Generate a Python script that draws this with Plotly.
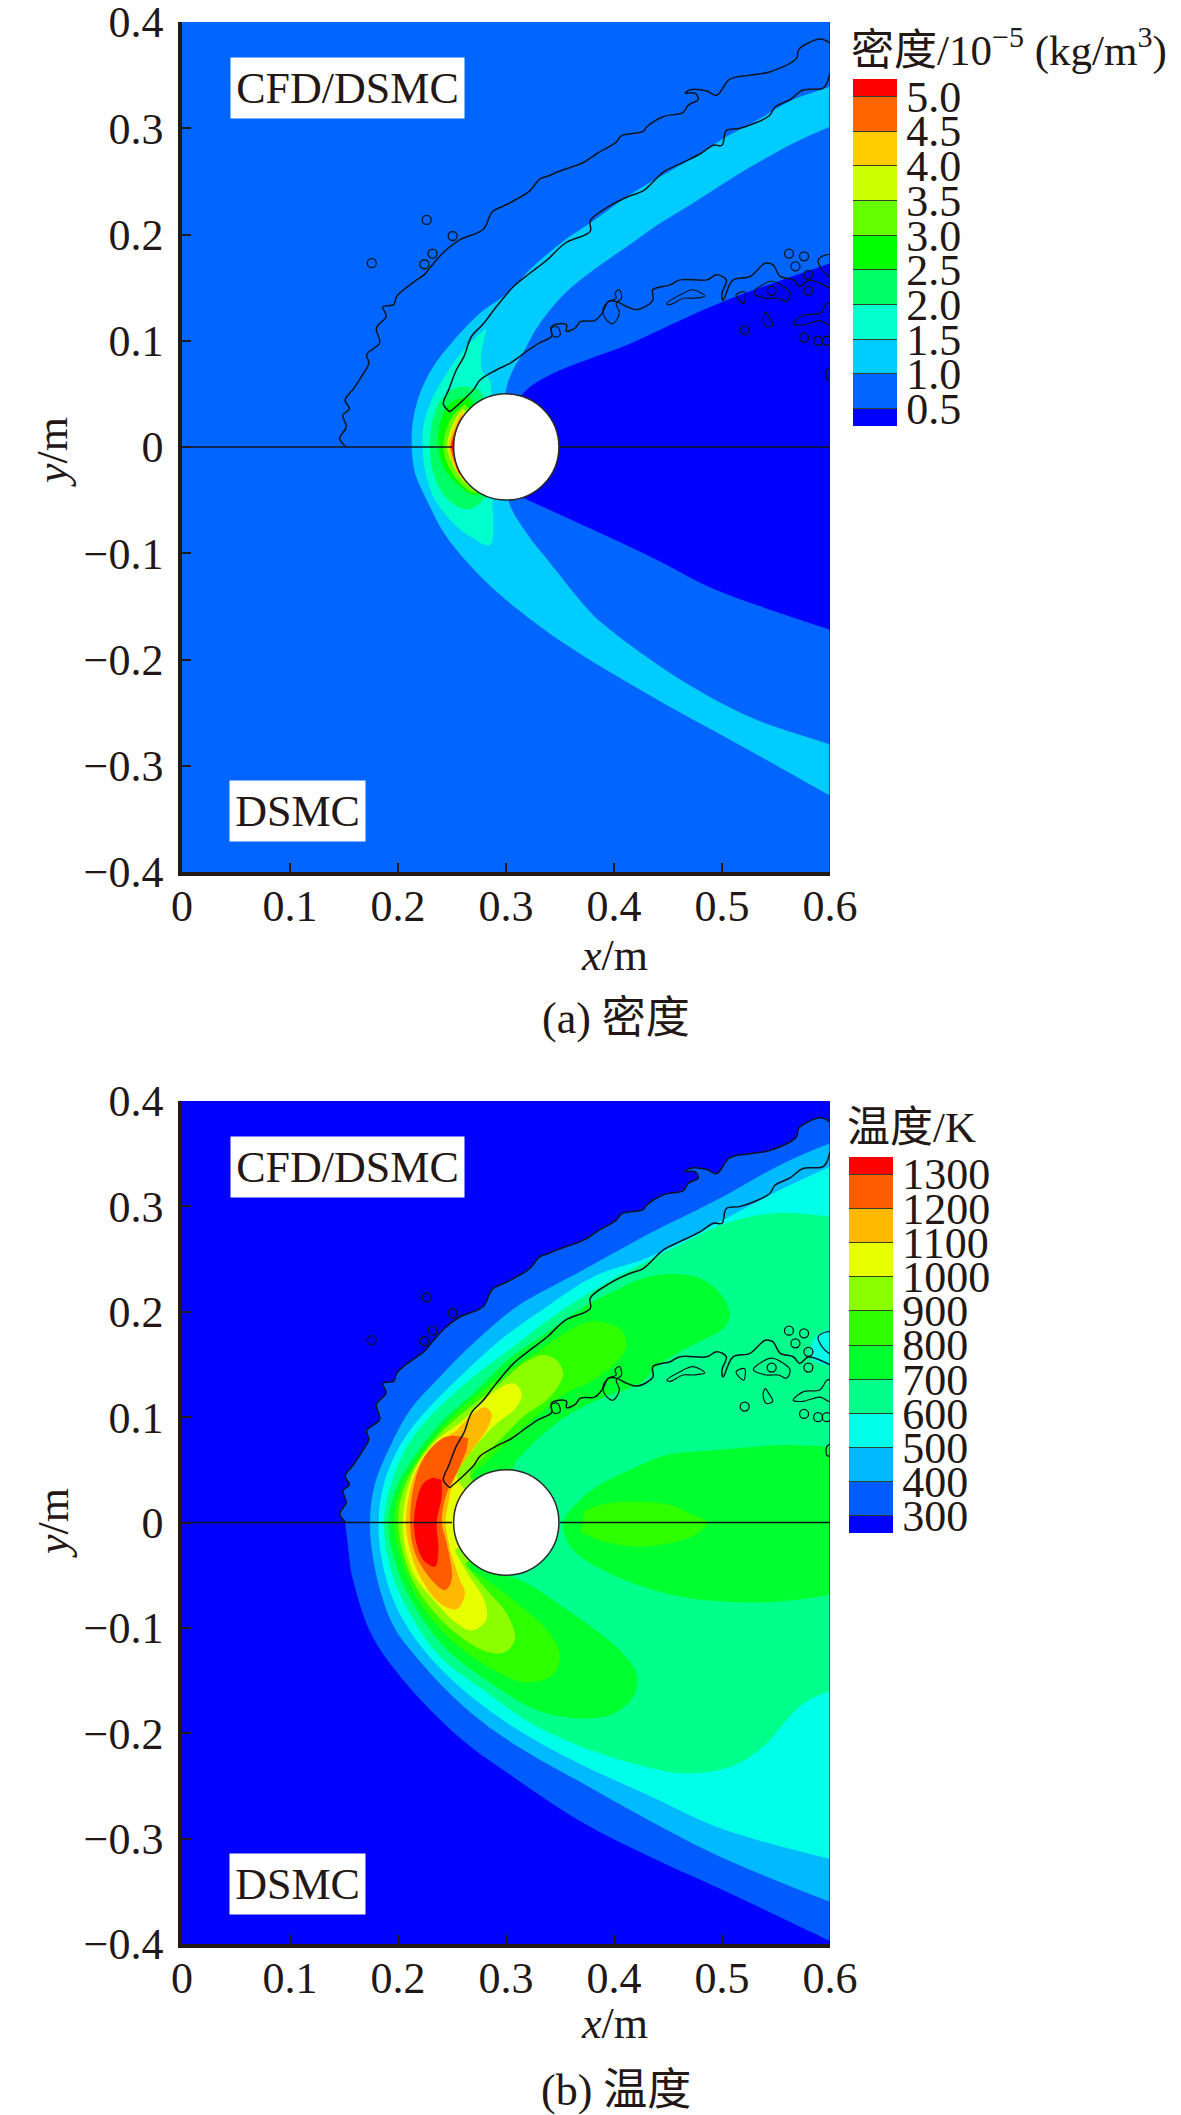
import plotly.graph_objects as go

WIDTH = 1181
HEIGHT = 2115
TEXT_COLOR = "#231815"
FONT = "Liberation Serif, Noto Sans CJK SC"

x_ticks = [0, 0.1, 0.2, 0.3, 0.4, 0.5, 0.6]
x_labels = ["0", "0.1", "0.2", "0.3", "0.4", "0.5", "0.6"]
y_ticks = [-0.4, -0.3, -0.2, -0.1, 0, 0.1, 0.2, 0.3, 0.4]
y_labels = ["−0.4", "−0.3", "−0.2", "−0.1", "0", "0.1", "0.2", "0.3", "0.4"]

density_levels = [0.5, 1.0, 1.5, 2.0, 2.5, 3.0, 3.5, 4.0, 4.5, 5.0]
density_labels = ["0.5", "1.0", "1.5", "2.0", "2.5", "3.0", "3.5", "4.0", "4.5", "5.0"]
density_colors = ["#0000ff", "#0066ff", "#00ccff", "#00ffcc", "#00ff66", "#00ff00",
                  "#66ff00", "#ccff00", "#ffcc00", "#ff6600", "#ff0000"]
temp_levels = [300, 400, 500, 600, 700, 800, 900, 1000, 1100, 1200, 1300]
temp_labels = ["300", "400", "500", "600", "700", "800", "900", "1000", "1100", "1200", "1300"]
temp_colors = ["#0000ff", "#005cff", "#00b9ff", "#00ffe8", "#00ff8b", "#00ff2e",
               "#2eff00", "#8bff00", "#e8ff00", "#ffb900", "#ff5c00", "#ff0000"]

# interface lines between the CFD and DSMC zones, the same in both panels
line_outer = [(.151, .001), (.146, .008), (.152, .019), (.149, .030), (.155, .036), (.151, .044),
              (.159, .055), (.166, .066), (.173, .079), (.171, .087), (.183, .098), (.180, .112),
              (.189, .123), (.186, .132), (.196, .134), (.199, .142), (.217, .157), (.224, .162),
              (.233, .173), (.244, .185), (.257, .195), (.279, .205), (.287, .221), (.298, .227),
              (.304, .230), (.322, .241), (.331, .252), (.339, .255), (.348, .259), (.372, .268),
              (.384, .276), (.402, .287), (.407, .293), (.427, .297), (.430, .301), (.446, .311),
              (.464, .315), (.469, .322), (.478, .327), (.475, .333), (.466, .333), (.470, .336),
              (.486, .335), (.495, .331), (.507, .346), (.526, .350), (.544, .353), (.569, .366),
              (.571, .374), (.591, .384), (.600, .380)]
line_shock = [(.248, .033), (.242, .0405), (.247, .054), (.254, .0725), (.261, .085), (.268, .104),
              (.279, .116), (.291, .132), (.307, .151), (.322, .1635), (.338, .176), (.355, .192),
              (.378, .203), (.378, .213), (.396, .227), (.415, .2365), (.427, .241), (.446, .259),
              (.461, .2665), (.480, .276), (.492, .284), (.500, .284), (.504, .298), (.517, .300),
              (.544, .312), (.549, .320), (.563, .327), (.575, .336), (.594, .338), (.600, .352)]
line_wake = [(.248, .033), (.257, .041), (.270, .054), (.276, .063), (.291, .0725), (.304, .079),
             (.315, .087), (.330, .0976), (.342, .104), (.342, .113), (.349, .116), (.356, .115),
             (.356, .109), (.364, .112), (.369, .118), (.382, .119), (.389, .126), (.395, .137),
             (.402, .137), (.412, .132), (.422, .1295), (.436, .138), (.436, .148), (.452, .1526),
             (.461, .1573), (.486, .1573), (.495, .162), (.504, .1573), (.500, .1447), (.501, .138),
             (.510, .157), (.526, .1605), (.540, .173), (.547, .1716), (.554, .1605), (.566, .1573),
             (.572, .151), (.580, .157), (.600, .1495)]
line_islands = [
    [(.390, .130), (.395, .137), (.402, .140), (.401, .145), (.405, .148), (.407, .140), (.402, .135),
     (.405, .126), (.399, .116), (.392, .121), (.390, .130)],
    [(.342, .112), (.348, .113), (.350, .105), (.344, .104), (.342, .112)],
    [(.449, .135), (.461, .143), (.473, .148), (.484, .142), (.473, .140), (.464, .140), (.452, .134), (.449, .135)],
    [(.513, .143), (.521, .146), (.520, .135), (.513, .143)],
    [(.529, .145), (.538, .153), (.546, .156), (.557, .151), (.563, .145), (.560, .137), (.552, .140),
     (.541, .140), (.529, .145)],
    [(.540, .127), (.543, .123), (.547, .115), (.541, .113), (.538, .121), (.540, .127)],
    [(.566, .116), (.575, .124), (.591, .126), (.597, .135), (.600, .135), (.600, .115), (.591, .119),
     (.575, .115), (.566, .116)],
    [(.597, .072), (.600, .074), (.600, .063), (.597, .064), (.597, .072)],
    [(.600, .181), (.597, .181), (.589, .176), (.594, .165), (.600, .160)],
]
ring_x = [.1757, .2266, .232, .2244, .2506, .562, .576, .568, .580, .580, .546, .521, .576, .589, .597]
ring_y = [.173, .2137, .182, .172, .1986, .182, .1795, .170, .162, .147, .147, .110, .103, .100, .100]

# density bands, each one holds everything above its lower level
# points past x=0.6 just keep the curves straight up to the clipped edge
density_bands = [
    ("#00ccff", [(.64, .355), (.6, .339), (.566, .327), (.535, .309), (.504, .292), (.473, .272), (.443, .2545), (.412, .2356),
                 (.381, .213), (.356, .196), (.325, .1698), (.301, .1447), (.276, .126), (.2513, .1), (.2327, .0757),
                 (.2204, .0506), (.214, .0255), (.2127, .0013), (.2158, -.0247), (.2266, -.0498), (.242, -.080),
                 (.2636, -.108), (.2945, -.139), (.354, -.185), (.437, -.236), (.528, -.287), (.6, -.328), (.64, -.35),
                 (.64, -.295), (.6, -.28), (.528, -.255), (.458, -.2166), (.389, -.166), (.375, -.152), (.341, -.1095),
                 (.319, -.081), (.302, -.050), (.30, 0), (.3006, .0568), (.319, .0945), (.3315, .1164), (.356, .146),
                 (.381, .1666), (.412, .1886), (.4426, .2105), (.473, .2294), (.504, .2497), (.535, .2686),
                 (.566, .286), (.6, .3015), (.64, .318)]),
    ("#0000ff", [(.30, 0), (.316, .0506), (.421, .1), (.504, .138), (.6, .1729), (.64, .188), (.64, -.186), (.6, -.172),
                 (.55, -.155), (.493, -.134), (.4333, -.103), (.316, -.048)]),
    ("#00ffcc", [(.282, .1117), (.2636, .0945), (.2451, .0694), (.2312, .0443), (.2235, .0192), (.2229, .0013),
                 (.225, -.0216), (.2327, -.0467), (.2482, -.0687), (.2667, -.0843), (.2852, -.0922), (.2883, -.0687),
                 (.2877, -.0498), (.30, 0), (.2867, .0474), (.285, .063), (.2775, .0725), (.2775, .0913)]),
    ("#00ff66", [(.276, .0537), (.2574, .0568), (.242, .0474), (.2327, .0286), (.2297, .0013), (.2327, -.0247),
                 (.2451, -.0483), (.2636, -.0586), (.279, -.0498), (.30, 0)]),
    ("#00ff00", [(.265, .048), (.248, .0412), (.2389, .0223), (.2374, .0013), (.2420, -.0185), (.2574, -.0373), (.2729, -.0451),
                 (.30, 0)]),
    ("#66ff00", [(.262, .040), (.250, .0286), (.2420, .0013), (.2466, -.0180), (.2605, -.0370), (.272, -.043), (.30, 0)]),
    ("#ccff00", [(.260, .036), (.2525, .0255), (.2455, .0013), (.2500, -.0153), (.2615, -.033), (.268, -.037), (.30, 0)]),
    ("#ffcc00", [(.259, .033), (.2530, .0223), (.2470, .0013), (.2515, -.0170), (.262, -.031), (.30, 0)]),
    ("#ff6600", [(.2585, .029), (.2530, .0170), (.2485, .0013), (.2525, -.0150), (.2595, -.027), (.30, 0)]),
    ("#ff0000", [(.2555, .018), (.2497, .0013), (.2535, -.012), (.2575, -.020), (.30, 0)]),
]

temp_lower_400 = [(.1564, -.0464), (.1743, -.104), (.2036, -.148), (.2588, -.2058), (.3043, -.2397),
                  (.3693, -.2837), (.4343, -.3176), (.4993, -.3481), (.6, -.3973)]

# temperature bands, same idea
temp_bands = [
    ("#005cff", line_outer + [(.6, -.3973)] + temp_lower_400[::-1]),
    ("#00b9ff", [(.6, .3598), (.5567, .3408), (.495, .306), (.4333, .2744), (.3715, .2396), (.35, .228), (.3099, .2048), (.2698, .17),
                 (.2389, .1384), (.2112, .1068), (.1926, .072), (.1787, .037), (.174, 0), (.1792, -.0464), (.1954, -.0973),
                 (.2198, -.1312), (.2653, -.1787), (.3108, -.2126), (.3693, -.2465), (.4343, -.2837), (.4993, -.3176),
                 (.6, -.36)]),
    ("#00ffe8", [(.6, .3377), (.5567, .3171), (.495, .2839), (.4333, .2522), (.381, .2333), (.3377, .2048), (.2945, .173), (.2574, .1384),
                 (.2297, .11), (.205, .0783), (.188, .0403), (.182, 0), (.1873, -.0464), (.2036, -.0905), (.2296, -.1278),
                 (.2718, -.1685), (.3173, -.2007), (.3693, -.2295), (.4343, -.26), (.4993, -.2905), (.6, -.3193)]),
    ("#00ff8b", [(.6, .2902), (.5567, .294), (.5258, .2902), (.495, .2807), (.4641, .2649), (.4333, .2491), (.4024, .2333),
                 (.3715, .2143), (.3407, .1937), (.3068, .1669), (.2698, .1384), (.2389, .11), (.2142, .0815),
                 (.1957, .0433), (.187, 0), (.1938, -.0464), (.2133, -.0905), (.2393, -.1278), (.2783, -.1583),
                 (.3205, -.1888), (.3693, -.2125), (.4343, -.2329), (.4668, -.238), (.5091, -.2312), (.5383, -.2125),
                 (.5643, -.1821), (.5805, -.1685), (.6, -.16)]),
    ("#00ffe8", [(.5829, .1542), (.5845, .1732), (.6, .1827), (.6, .1479)]),
    ("#00ff2e", [(.30, .0), (.3067, .053), (.3160, .0656), (.3407, .0893), (.3654, .1067), (.3962, .1210), (.4240, .1320),
                 (.4394, .1479), (.4610, .1621), (.4826, .1732), (.5027, .1858), (.5073, .1985), (.4981, .2175),
                 (.4796, .2317), (.4518, .2358), (.4271, .2317), (.4024, .2206), (.3777, .2080), (.3561, .1937),
                 (.3345, .1779), (.3036, .1558), (.2698, .1226), (.242, .0973), (.2173, .0657), (.2003, .0372),
                 (.1911, 0), (.2003, -.0464), (.2198, -.0871), (.2458, -.1210), (.2848, -.1515), (.3303, -.1787),
                 (.3693, -.186), (.3986, -.182), (.4181, -.165), (.4213, -.1447), (.4083, -.1244), (.3855, -.104),
                 (.3531, -.0803), (.3206, -.0583), (.30, -.05)]),
    ("#00ff2e", [(.6, .072), (.5567, .0735), (.4950, .0688), (.4487, .0640), (.4147, .0498), (.3839, .0340), (.3685, .0213),
                 (.3531, 0), (.3595, -.0227), (.3855, -.043), (.4343, -.0634), (.4831, -.0736), (.5481, -.0753),
                 (.6, -.0685)]),
    ("#2eff00", [(.3726, .0112), (.3921, .0180), (.4213, .0197), (.4538, .0163), (.4717, .0078), (.4863, 0),
                 (.4733, -.0126), (.4278, -.0227), (.3953, -.0193), (.3693, -.0092)]),
    ("#2eff00", [(.30, 0), (.2697, .0435), (.2820, .0577), (.3067, .0814), (.3314, .1036), (.3530, .1210), (.3839, .1368),
                 (.4055, .1558), (.4117, .1684), (.4070, .1827), (.3870, .1906), (.3715, .1890), (.3468, .1747),
                 (.3222, .1573), (.2944, .1384), (.2605, .11), (.2389, .0878), (.2173, .0593), (.2019, .0309),
                 (.1965, 0), (.2068, -.0464), (.2231, -.0804), (.2523, -.1142), (.2913, -.1414), (.3173, -.1515),
                 (.3433, -.1447), (.3498, -.1244), (.3368, -.1006), (.3108, -.0770), (.2848, -.0566), (.2653, -.043)]),
    ("#8bff00", [(.30, 0), (.2666, .0466), (.2790, .0625), (.2975, .0814), (.3160, .1004), (.3376, .1162), (.3499, .1320),
                 (.3530, .1415), (.3468, .1542), (.3345, .1589), (.3160, .1510), (.2944, .1321), (.2636, .1068),
                 (.2420, .0878), (.2235, .0657), (.2050, .0309), (.2003, 0), (.2101, -.0464), (.2296, -.0804),
                 (.2523, -.104), (.2783, -.1210), (.2978, -.1237), (.3082, -.1108), (.3011, -.0871), (.2816, -.0634),
                 (.2621, -.0397)]),
    ("#e8ff00", [(.30, 0), (.2543, .0435), (.2667, .0657), (.2883, .0910), (.3099, .1099), (.3145, .1226), (.3068, .1321),
                 (.2914, .1258), (.2760, .1131), (.2605, .0973), (.2327, .0751), (.2127, .0435), (.2044, 0),
                 (.2133, -.0464), (.2361, -.0770), (.2523, -.0939), (.2686, -.1024), (.2816, -.0922), (.2799, -.0736),
                 (.2653, -.0498), (.2523, -.0261)]),
    ("#ffb900", [(.2435, 0), (.2466, .0182), (.2528, .0435), (.2667, .0657), (.2837, .0910), (.2867, .1036), (.2806, .1093),
                 (.2698, .1036), (.2544, .0878), (.2327, .0720), (.2158, .0467), (.2074, 0), (.2112, -.0261),
                 (.2204, -.0514), (.2389, -.0767), (.2544, -.0824), (.2621, -.0672), (.2574, -.0545), (.2482, -.0261)]),
    ("#ff5c00", [(.2651, .0799), (.2451, .0815), (.2266, .0657), (.2158, .0402), (.2112, 0), (.2158, -.0292), (.2312, -.0545),
                 (.2435, -.0640), (.2497, -.0545), (.2451, -.0193), (.2405, 0), (.2451, .0277), (.2544, .0467),
                 (.2636, .0688)]),
    ("#ff0000", [(.2327, .0426), (.2235, .0372), (.2158, .0119), (.2158, -.0134), (.2235, -.0356), (.2343, -.0419),
                 (.2374, -.0261), (.2358, 0), (.2405, .0245), (.2405, .0404)]),
]


def add_band(fig, points, color, xa, ya):
    fig.add_trace(go.Scatter(
        x=[p[0] for p in points], y=[p[1] for p in points],
        mode="lines", line=dict(width=0, shape="spline", smoothing=1), fill="toself", fillcolor=color,
        hoverinfo="skip", showlegend=False, xaxis=xa, yaxis=ya,
    ))


def add_line(fig, points, xa, ya, width=1.5, shape="spline"):
    fig.add_trace(go.Scatter(
        x=[p[0] for p in points], y=[p[1] for p in points],
        mode="lines", line=dict(color="#10141c", width=width, shape=shape),
        hoverinfo="skip", showlegend=False, xaxis=xa, yaxis=ya,
    ))


def add_panel(fig, background, bands, xa, ya):
    fig.add_trace(go.Scatter(
        x=[0, .6, .6, 0], y=[-.4, -.4, .4, .4], mode="lines", line=dict(width=0),
        fill="toself", fillcolor=background, hoverinfo="skip", showlegend=False, xaxis=xa, yaxis=ya,
    ))
    for color, points in bands:
        add_band(fig, points, color, xa, ya)

    # axis of symmetry, broken by the cylinder
    add_line(fig, [(0, 0), (.25, 0)], xa, ya, shape="linear")
    add_line(fig, [(.35, 0), (.6, 0)], xa, ya, shape="linear")
    add_line(fig, [(.6, -.4), (.6, .4)], xa, ya, width=1, shape="linear")

    add_line(fig, line_outer, xa, ya)
    add_line(fig, line_shock, xa, ya)
    add_line(fig, line_wake, xa, ya)
    for island in line_islands:
        add_line(fig, island, xa, ya, width=1.2)
    fig.add_trace(go.Scatter(
        x=ring_x, y=ring_y, mode="markers",
        marker=dict(symbol="circle-open", size=9, color="#10141c", line=dict(width=1.3)),
        hoverinfo="skip", showlegend=False, xaxis=xa, yaxis=ya,
    ))

    fig.add_shape(type="circle", xref=xa, yref=ya, x0=.2515, x1=.349, y0=-.05, y1=.05,
                  fillcolor="white", line=dict(color="#2a2a2a", width=1.5))


def add_colorbar(fig, levels, labels, colors, xa, ya, left, top, length):
    # discrete colour key, the end boxes are half a step high
    step = levels[1] - levels[0]
    z_min = levels[0] - step / 2
    z_max = levels[-1] + step / 2
    edges = [z_min] + levels + [z_max]
    scale = []
    for i, color in enumerate(colors):
        scale.append([(edges[i] - z_min) / (z_max - z_min), color])
        scale.append([(edges[i + 1] - z_min) / (z_max - z_min), color])
    fig.add_trace(go.Scatter(
        x=[None], y=[None], mode="markers", hoverinfo="skip", showlegend=False, xaxis=xa, yaxis=ya,
        marker=dict(
            color=[levels[0]], colorscale=scale, cmin=z_min, cmax=z_max, showscale=True,
            colorbar=dict(
                x=left / WIDTH, xanchor="left", y=1 - top / HEIGHT, yanchor="top",
                len=length, lenmode="pixels", thickness=44, thicknessmode="pixels",
                xpad=0, ypad=0, outlinewidth=0,
                tickmode="array", tickvals=levels, ticktext=labels,
                ticks="inside", ticklen=44, tickwidth=1, tickcolor="#30402a",
                tickfont=dict(family=FONT, size=44, color=TEXT_COLOR),
            ),
        ),
    ))


def text_box(text, x, y, width, xa, ya):
    return dict(text=text, x=x, y=y, xref=xa, yref=ya, showarrow=False, width=width, height=58,
                bgcolor="white", font=dict(family=FONT, size=44, color=TEXT_COLOR))


def page_text(text, left, top, size=44, anchor="center", angle=0):
    return dict(text=text, x=left / WIDTH, y=1 - top / HEIGHT, xref="paper", yref="paper",
                showarrow=False, xanchor=anchor, yanchor="middle", textangle=angle,
                font=dict(family=FONT, size=size, color=TEXT_COLOR))


def axis_style(ticks, labels, limits, domain, anchor, standoff):
    return dict(
        range=limits, domain=domain, anchor=anchor,
        tickmode="array", tickvals=ticks, ticktext=labels,
        ticks="inside", ticklen=9, tickwidth=2.2, tickcolor=TEXT_COLOR, ticklabelstandoff=standoff,
        ticklabeloverflow="allow",  # 0.4 sits close to the top of the page
        tickfont=dict(family=FONT, size=44, color=TEXT_COLOR),
        showline=True, linewidth=3.5, linecolor=TEXT_COLOR,
        showgrid=False, zeroline=False,
    )


fig = go.Figure()
add_panel(fig, "#0066ff", density_bands, "x", "y")
add_colorbar(fig, density_levels, density_labels, density_colors, "x", "y", 853, 79, 347)
add_panel(fig, "#0000ff", temp_bands, "x2", "y2")
add_colorbar(fig, temp_levels, temp_labels, temp_colors, "x2", "y2", 849, 1157, 376)

x_domain = [182 / WIDTH, 830 / WIDTH]
fig.update_layout(
    width=WIDTH,
    height=HEIGHT,
    margin=dict(l=0, r=0, t=0, b=0, autoexpand=False),
    paper_bgcolor="white",
    plot_bgcolor="white",
    xaxis=axis_style(x_ticks, x_labels, [0, .6], x_domain, "y", -8),
    yaxis=axis_style(y_ticks, y_labels, [-.4, .4], [1 - 872 / HEIGHT, 1 - 22 / HEIGHT], "x", 6),
    xaxis2=axis_style(x_ticks, x_labels, [0, .6], x_domain, "y2", -8),
    yaxis2=axis_style(y_ticks, y_labels, [-.4, .4], [1 - 1944 / HEIGHT, 1 - 1101 / HEIGHT], "x2", 6),
    annotations=[
        text_box("CFD/DSMC", .1528, .338, 231, "x", "y"),
        text_box("DSMC", .1074, -.343, 133, "x", "y"),
        text_box("CFD/DSMC", .1528, .337, 231, "x2", "y2"),
        text_box("DSMC", .1074, -.3426, 133, "x2", "y2"),
        page_text("<i>x</i>/m", 614, 955),
        page_text("<i>x</i>/m", 614, 2023),
        page_text("<i>y</i>/m", 53, 452, angle=-90),
        page_text("<i>y</i>/m", 53, 1523, angle=-90),
        page_text("(a) 密度", 616, 1019),
        page_text("(b) 温度", 616, 2090),
        page_text("密度/10<sup>−5</sup> (kg/m<sup>3</sup>)", 849, 47, size=43, anchor="left"),
        page_text("温度/K", 845, 1127, size=43, anchor="left"),
    ],
)

fig.write_html("out.html", config={"displayModeBar": False}, post_script="document.body.style.margin = '0';")
